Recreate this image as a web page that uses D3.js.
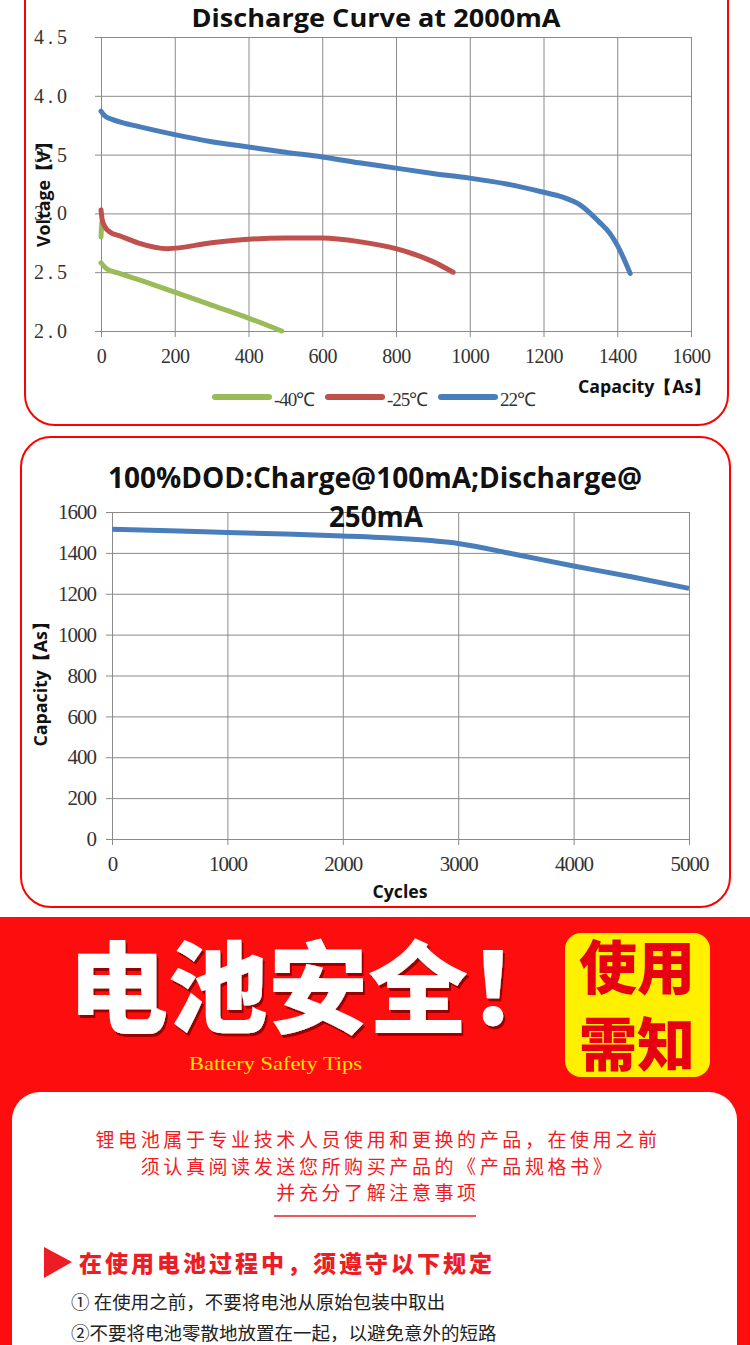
<!DOCTYPE html>
<html>
<head>
<meta charset="utf-8">
<script src="https://cdn.jsdelivr.net/npm/d3@7"></script>
<style>
body { margin: 0; background: #fff; }
svg { display: block; }
</style>
</head>
<body>
<div id="chart"></div>
<script>
// discharge at 2000mA: capacity (As) vs voltage (V)
var cap40 = [2, 0, NaN, 0, 15, 50, 100, 200, 300, 400, 490];
var volt40 = [2.92, 2.80, NaN, 2.58, 2.53, 2.49, 2.44, 2.33, 2.22, 2.11, 2.0];
var cap25 = [0, 3, 10, 25, 50, 100, 180, 300, 400, 500, 600, 700, 800, 900, 955];
var volt25 = [3.03, 2.95, 2.89, 2.84, 2.81, 2.75, 2.70, 2.75, 2.78, 2.79, 2.79, 2.76, 2.70, 2.59, 2.50];
var cap22 = [0, 10, 30, 60, 100, 200, 300, 400, 500, 600, 700, 800, 900, 1000, 1100, 1200, 1250, 1300, 1350, 1380, 1400, 1420, 1435];
var volt22 = [3.87, 3.83, 3.80, 3.77, 3.74, 3.67, 3.61, 3.565, 3.52, 3.48, 3.43, 3.385, 3.34, 3.30, 3.25, 3.18, 3.14, 3.07, 2.93, 2.83, 2.73, 2.60, 2.49];
var tempLabels = ["-40℃", "-25℃", "22℃"];
var voltTicks = [2.0, 2.5, 3.0, 3.5, 4.0, 4.5];
var capTicks = [0, 200, 400, 600, 800, 1000, 1200, 1400, 1600];

// cycle life
var cycles = [0, 500, 1000, 1500, 2000, 2500, 3000, 3500, 4000, 4500, 5000];
var cycleCap = [1515, 1508, 1500, 1492, 1483, 1470, 1446, 1392, 1336, 1283, 1226];
var cycleTicks = [0, 1000, 2000, 3000, 4000, 5000];
var cycleCapTicks = [0, 200, 400, 600, 800, 1000, 1200, 1400, 1600];

// safety text
var introLines = ["锂电池属于专业技术人员使用和更换的产品，在使用之前",
                  "须认真阅读发送您所购买产品的《产品规格书》",
                  "并充分了解注意事项"];
var ruleHead = "在使用电池过程中，须遵守以下规定";
var rules = ["① 在使用之前，不要将电池从原始包装中取出",
             "②不要将电池零散地放置在一起，以避免意外的短路"];

var W = 750, H = 1345;
var RED = "#fd0d0d";
var colors = ["#9bbb59", "#c0504d", "#4a7ebb"];

var svg = d3.select("#chart").append("svg")
    .attr("width", W)
    .attr("height", H);

svg.append("rect").attr("width", W).attr("height", H).attr("fill", "#fff");

var defs = svg.append("defs");
defs.append("filter").attr("id", "shadow")
    .attr("x", "-10%").attr("y", "-10%").attr("width", "120%").attr("height", "120%")
    .append("feDropShadow")
    .attr("dx", 2).attr("dy", 3).attr("stdDeviation", 0.6)
    .attr("flood-color", "#9a0000");

function grid(g, x, y, xt, yt) {
    var x0 = x.range()[0], x1 = x.range()[1];
    var y0 = y.range()[0], y1 = y.range()[1];
    g.append("g")
        .attr("transform", "translate(0," + y0 + ")")
        .call(d3.axisBottom(x).tickValues(xt).tickSize(-(y0 - y1)).tickFormat(""))
        .call(function(a) {
            a.select(".domain").remove();
            a.selectAll("line").attr("y1", 6).attr("stroke", "#8a8a8a");
        });
    g.append("g")
        .attr("transform", "translate(" + x0 + ",0)")
        .call(d3.axisLeft(y).tickValues(yt).tickSize(-(x1 - x0)).tickFormat(""))
        .call(function(a) {
            a.select(".domain").remove();
            a.selectAll("line").attr("x1", -6).attr("stroke", "#8a8a8a");
        });
}

// ---------- chart 1 ----------
svg.append("path")
    .attr("d", "M25,-5 L25,395 A30,30 0 0 0 55,425 L698,425 A30,30 0 0 0 728,395 L728,-5")
    .attr("fill", "none")
    .attr("stroke", "#ff0000")
    .attr("stroke-width", 2);

var x1 = d3.scaleLinear().domain([0, 1600]).range([101, 691]);
var y1 = d3.scaleLinear().domain([2, 4.5]).range([331, 37]);
var c1 = svg.append("g");
grid(c1, x1, y1, capTicks, voltTicks);

c1.append("g")
    .attr("transform", "translate(0,331)")
    .call(d3.axisBottom(x1).tickValues(capTicks).tickSize(6).tickPadding(12).tickFormat(d3.format("d")))
    .call(function(a) {
        a.select(".domain").remove();
        a.selectAll("line").remove();
        a.selectAll("text").attr("font-family", "Liberation Serif").attr("font-size", 20)
            .attr("letter-spacing", -0.5).attr("fill", "#333");
    });
c1.append("g")
    .attr("transform", "translate(101,0)")
    .call(d3.axisLeft(y1).tickValues(voltTicks).tickSize(6).tickPadding(24).tickFormat(d3.format(".1f")))
    .call(function(a) {
        a.select(".domain").remove();
        a.selectAll("line").remove();
        a.selectAll("text").attr("font-family", "Liberation Serif").attr("font-size", 20)
            .attr("letter-spacing", 4).attr("fill", "#333");
    });

var line1 = d3.line()
    .defined(function(d) { return !isNaN(d[1]); })
    .x(function(d) { return x1(d[0]); })
    .y(function(d) { return y1(d[1]); })
    .curve(d3.curveMonotoneX);

var series1 = [d3.zip(cap40, volt40), d3.zip(cap25, volt25), d3.zip(cap22, volt22)];
c1.selectAll(".s")
    .data(series1)
    .enter()
    .append("path")
    .attr("d", line1)
    .attr("fill", "none")
    .attr("stroke", function(d, i) { return colors[i]; })
    .attr("stroke-width", 5)
    .attr("stroke-linecap", "round")
    .attr("stroke-linejoin", "round");

svg.append("text")
    .attr("x", 376).attr("y", 27)
    .attr("text-anchor", "middle")
    .attr("font-family", "Open Sans").attr("font-weight", "bold").attr("font-size", 25)
    .attr("textLength", 369).attr("lengthAdjust", "spacingAndGlyphs")
    .attr("fill", "#111")
    .text("Discharge Curve at 2000mA");

svg.append("text")
    .attr("transform", "translate(50,190) rotate(-90)")
    .attr("text-anchor", "middle")
    .attr("font-family", "Open Sans").attr("font-weight", "bold").attr("font-size", 17)
    .attr("textLength", 114).attr("lengthAdjust", "spacingAndGlyphs")
    .attr("fill", "#111")
    .text("Voltage【V】");

svg.append("text")
    .attr("x", 711).attr("y", 393)
    .attr("text-anchor", "end")
    .attr("font-family", "Open Sans").attr("font-weight", "bold").attr("font-size", 17)
    .attr("textLength", 133).attr("lengthAdjust", "spacingAndGlyphs")
    .attr("fill", "#111")
    .text("Capacity【As】");

// legend
var lg = svg.append("g").selectAll("g")
    .data(tempLabels)
    .enter()
    .append("g")
    .attr("transform", function(d, i) { return "translate(" + (215 + i * 113) + ",397)"; });
lg.append("line")
    .attr("x1", 0).attr("x2", 54)
    .attr("stroke", function(d, i) { return colors[i]; })
    .attr("stroke-width", 6)
    .attr("stroke-linecap", "round");
lg.append("text")
    .attr("x", 59).attr("y", 9)
    .attr("font-family", "Liberation Serif").attr("font-size", 19)
    .attr("letter-spacing", -1)
    .attr("fill", "#333")
    .text(function(d) { return d; });

// ---------- chart 2 ----------
svg.append("rect")
    .attr("x", 21).attr("y", 437).attr("width", 709).attr("height", 470)
    .attr("rx", 30)
    .attr("fill", "none")
    .attr("stroke", "#ff0000")
    .attr("stroke-width", 2);

var x2 = d3.scaleLinear().domain([0, 5000]).range([112, 689]);
var y2 = d3.scaleLinear().domain([0, 1600]).range([839, 512]);
var c2 = svg.append("g");
grid(c2, x2, y2, cycleTicks, cycleCapTicks);

c2.append("g")
    .attr("transform", "translate(0,839)")
    .call(d3.axisBottom(x2).tickValues(cycleTicks).tickSize(6).tickPadding(11).tickFormat(d3.format("d")))
    .call(function(a) {
        a.select(".domain").remove();
        a.selectAll("line").remove();
        a.selectAll("text").attr("font-family", "Liberation Serif").attr("font-size", 21)
            .attr("letter-spacing", -1).attr("fill", "#333");
    });
c2.append("g")
    .attr("transform", "translate(112,0)")
    .call(d3.axisLeft(y2).tickValues(cycleCapTicks).tickSize(6).tickPadding(10).tickFormat(d3.format("d")))
    .call(function(a) {
        a.select(".domain").remove();
        a.selectAll("line").remove();
        a.selectAll("text").attr("font-family", "Liberation Serif").attr("font-size", 21)
            .attr("letter-spacing", -1).attr("fill", "#333");
    });

var line2 = d3.line()
    .x(function(d) { return x2(d[0]); })
    .y(function(d) { return y2(d[1]); })
    .curve(d3.curveMonotoneX);

c2.append("path")
    .datum(d3.zip(cycles, cycleCap))
    .attr("d", line2)
    .attr("fill", "none")
    .attr("stroke", colors[2])
    .attr("stroke-width", 5);

svg.append("text")
    .attr("x", 375).attr("y", 488)
    .attr("text-anchor", "middle")
    .attr("font-family", "Open Sans").attr("font-weight", "bold").attr("font-size", 28)
    .attr("textLength", 534).attr("lengthAdjust", "spacingAndGlyphs")
    .attr("fill", "#111")
    .text("100%DOD:Charge@100mA;Discharge@");
svg.append("text")
    .attr("x", 376).attr("y", 527)
    .attr("text-anchor", "middle")
    .attr("font-family", "Open Sans").attr("font-weight", "bold").attr("font-size", 28)
    .attr("textLength", 94).attr("lengthAdjust", "spacingAndGlyphs")
    .attr("fill", "#111")
    .text("250mA");

svg.append("text")
    .attr("transform", "translate(47,680) rotate(-90)")
    .attr("text-anchor", "middle")
    .attr("font-family", "Open Sans").attr("font-weight", "bold").attr("font-size", 17)
    .attr("textLength", 133).attr("lengthAdjust", "spacingAndGlyphs")
    .attr("fill", "#111")
    .text("Capacity【As】");

svg.append("text")
    .attr("x", 400).attr("y", 898)
    .attr("text-anchor", "middle")
    .attr("font-family", "Open Sans").attr("font-weight", "bold").attr("font-size", 17)
    .attr("textLength", 55).attr("lengthAdjust", "spacingAndGlyphs")
    .attr("fill", "#111")
    .text("Cycles");

// ---------- banner ----------
svg.append("rect").attr("x", 0).attr("y", 917).attr("width", W).attr("height", H - 917).attr("fill", RED);
svg.append("rect")
    .attr("x", 12).attr("y", 1092).attr("width", 725).attr("height", 300)
    .attr("rx", 28)
    .attr("fill", "#fff");

var cjk = "Noto Sans CJK SC";
var big = svg.append("g").attr("font-family", cjk).attr("font-weight", 900).attr("font-size", 100)
    .attr("fill", "#fff").attr("filter", "url(#shadow)");
big.append("text").attr("x", 68).attr("y", 1025).text("电池安全！");

svg.append("text")
    .attr("x", 189).attr("y", 1070)
    .attr("font-family", "Liberation Serif").attr("font-size", 19)
    .attr("textLength", 173).attr("lengthAdjust", "spacingAndGlyphs")
    .attr("fill", "#ffe600")
    .text("Battery Safety Tips");

svg.append("rect")
    .attr("x", 565).attr("y", 933).attr("width", 145).attr("height", 144)
    .attr("rx", 16)
    .attr("fill", "#fff000");
var tag = svg.append("g").attr("font-family", cjk).attr("font-weight", 900).attr("font-size", 58)
    .attr("fill", "#e60012").attr("text-anchor", "middle");
tag.append("text").attr("x", 637).attr("y", 989).text("使用");
tag.append("text").attr("x", 637).attr("y", 1066).text("需知");

// ---------- safety text ----------
svg.append("g").selectAll("text")
    .data(introLines)
    .enter()
    .append("text")
    .attr("x", 378)
    .attr("y", function(d, i) { return 1147 + i * 26.5; })
    .attr("text-anchor", "middle")
    .attr("font-family", cjk).attr("font-size", 19)
    .attr("letter-spacing", 3.6)
    .attr("fill", "#ee1c25")
    .text(function(d) { return d; });

svg.append("line")
    .attr("x1", 274).attr("x2", 476).attr("y1", 1216).attr("y2", 1216)
    .attr("stroke", "#ee1c25").attr("stroke-width", 1.5);

svg.append("path")
    .attr("d", "M44,1247 L72,1262 L44,1278 Z")
    .attr("fill", "#ee1c25");
svg.append("text")
    .attr("x", 79).attr("y", 1272)
    .attr("font-family", cjk).attr("font-weight", 900).attr("font-size", 23)
    .attr("letter-spacing", 3)
    .attr("fill", "#ee1c25")
    .text(ruleHead);

svg.append("g").selectAll("text")
    .data(rules)
    .enter()
    .append("text")
    .attr("x", 71)
    .attr("y", function(d, i) { return 1309 + i * 31; })
    .attr("font-family", cjk).attr("font-size", 18.5)
    .attr("fill", "#222")
    .text(function(d) { return d; });
</script>
</body>
</html>
